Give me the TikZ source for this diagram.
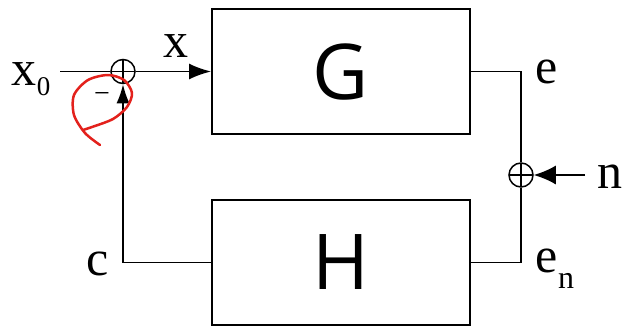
\documentclass[tikz,border=0pt]{standalone}
\usepackage{fontspec}
\setmainfont{Liberation Serif}
\newfontfamily\blockfont{Open Sans}
\usetikzlibrary{arrows.meta}
\definecolor{annot}{HTML}{E3211C}
\begin{document}
\begin{tikzpicture}[x=1pt,y=-1pt, line width=1.8pt,
  blk/.style={draw, minimum width=258pt, minimum height=125pt, inner sep=0pt,
    font=\blockfont\fontsize{77}{80}\selectfont},
  sumj/.style={circle, draw, line width=1.5pt, minimum size=24pt, inner sep=0pt,
    path picture={\draw[line width=1.5pt]
      (path picture bounding box.north) -- (path picture bounding box.south)
      (path picture bounding box.west) -- (path picture bounding box.east);}},
  lbl/.style={font=\fontsize{50}{52}\selectfont, inner sep=0pt, anchor=base west},
  arr/.style={-{Latex[length=22pt,width=16pt]}}]
\useasboundingbox (0,0) rectangle (626,327);

\node[blk] (G) at (341,71.5) {G};
\node[blk] (H) at (341,262.5) {H};
\node[sumj] (s1) at (123,71.5) {};
\node[sumj] (s2) at (521,175) {};
\coordinate (x0) at (60,71.5);
\coordinate (nin) at (585,175);

\draw (x0) -- (s1);
\draw[arr] (s1) -- (G.west);
\draw (G.east) -| (s2);
\draw (s2) |- (H.east);
\draw[-{Latex[length=19pt,width=13pt]}] (H.west) -| (s1);
\draw[-{Latex[length=22pt,width=19pt]}] (nin) -- (s2);

\node[lbl] (lx0) at (11,85) {x\raisebox{-10pt}{\fontsize{27}{28}\selectfont 0}};
\node[lbl] (lx) at (163,57) {x};
\node[lbl] (le) at (535,83) {e};
\node[lbl] (ln) at (597,188) {n};
\node[lbl] (len) at (535,272) {e\raisebox{-16pt}{\fontsize{32}{33}\selectfont n}};
\node[lbl] (lc) at (86,275) {c};
\node[inner sep=0pt, font=\fontsize{28}{28}\selectfont] (minus) at (102,97) {−};

\draw[annot, line width=2.5pt, line cap=round, line join=round]
  plot[smooth] coordinates {(100,145) (85,133) (74,115) (74,95) (88,80) (108,75)
  (124,80) (132,93) (127,107) (113,119) (92,127) (83,130)};
\end{tikzpicture}
\end{document}
